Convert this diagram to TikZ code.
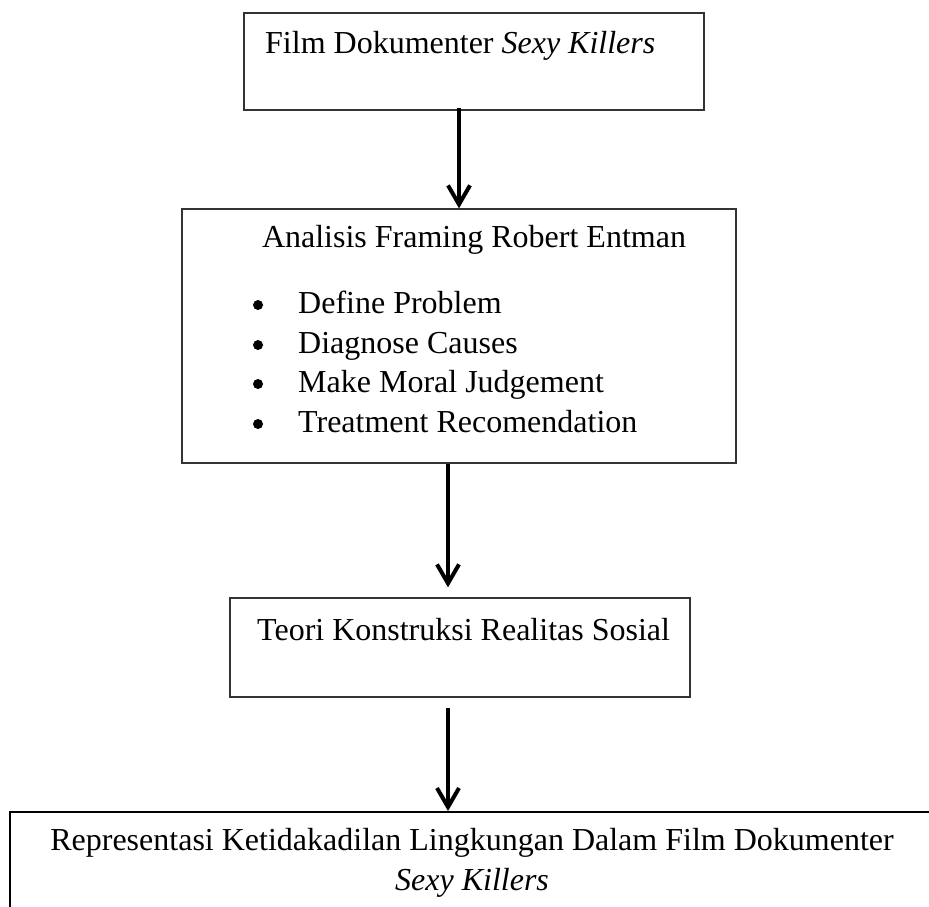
\documentclass[tikz,border=0pt]{standalone}
\usepackage{fontspec}
\setmainfont{Liberation Serif}
\usetikzlibrary{arrows.meta, positioning}
\tikzset{
  frameBox/.style={rectangle, draw=black!80, line width=1.3pt, inner sep=0pt},
  arrowK/.style={-{Straight Barb[length=19pt, width=22pt]}, line width=4pt},
  txtA/.style={font=\fontsize{32}{40}\selectfont, inner sep=0pt},
  dotA/.style={circle, fill=black, inner sep=0pt, minimum size=10pt},
}

\begin{document}
\begin{tikzpicture}[x=1pt, y=-1pt]
    \useasboundingbox (0,0) rectangle (929,906);
    % kotak
    \node[frameBox, minimum width=460pt, minimum height=97pt] (film) at (474,61.5) {};
    \node[frameBox, minimum width=554pt, minimum height=254pt] (framing) at (459,336) {};
    \node[frameBox, minimum width=460pt, minimum height=99pt] (teori) at (460,647.5) {};
    \node[frameBox, draw=black, line width=2pt, minimum width=926pt, minimum height=160pt,
          anchor=north west] (repr) at (9,811) {};
    % teks
    \node[txtA, anchor=base west] (filmT) at (265,53) {Film Dokumenter \textit{Sexy Killers}};
    \node[txtA, anchor=base] (framingT) at (474,247) {Analisis Framing Robert Entman};
    \foreach \y/\t [count=\i] in {313/Define Problem, 353/Diagnose Causes,
                                  392/Make Moral Judgement, 432/Treatment Recomendation} {
      \node[dotA] (dot\i) at (258,\y-8) {};
      \node[txtA, anchor=base west] (item\i) at (298,\y) {\t};
    }
    \node[txtA, anchor=base west] (teoriT) at (257,640) {Teori Konstruksi Realitas Sosial};
    \node[txtA, anchor=base] (reprT) at (472,850)
      {Representasi Ketidakadilan Lingkungan Dalam Film Dokumenter};
    \node[txtA, anchor=base] (reprS) at (472,890) {\textit{Sexy Killers}};
    % panah
    \draw[arrowK] ([xshift=-15pt,yshift=3pt]film.south) -- (framing.north);
    \draw[arrowK] ([xshift=-11pt]framing.south) -- ([xshift=-12pt,yshift=10pt]teori.north);
    \draw[arrowK] ([xshift=-12pt,yshift=-10pt]teori.south) -- ([xshift=-12pt]teori.south |- repr.north);
\end{tikzpicture}
\end{document}
